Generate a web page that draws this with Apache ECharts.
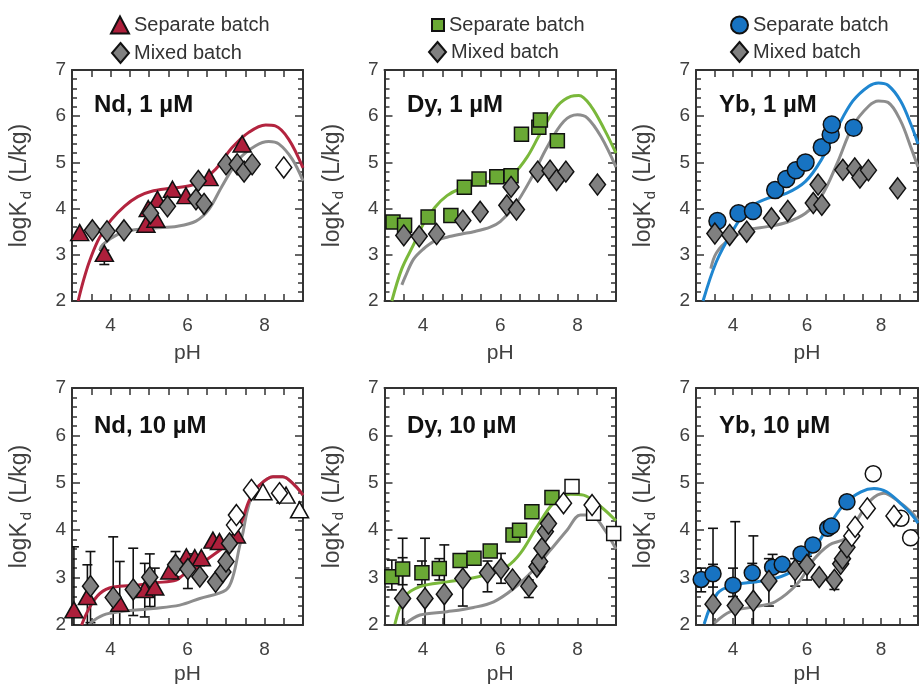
<!DOCTYPE html>
<html><head><meta charset="utf-8">
<script src="https://cdn.jsdelivr.net/npm/echarts@6/dist/echarts.min.js"></script>
<style>html,body{margin:0;padding:0;background:#fff}#c{width:921px;height:688px}</style>
</head><body><div id="c"></div>
<script>
// ---------- data (pH, logKd) ----------
const ndSep1 = [[3.2,3.48],[3.84,3.03],[4.92,3.66],[4.98,4.0],[5.18,3.77],[5.22,4.2],[5.61,4.42],[5.96,4.28],[6.56,4.67],[7.42,5.40]];
const ndSep1Err = [[3.84,2.79,3.1]];
const ndMix1 = [[3.53,3.53],[3.91,3.51],[4.35,3.53],[5.04,3.9],[5.48,4.05],[6.22,4.2],[6.28,4.6],[6.43,4.1],[7.0,4.96],[7.29,4.96],[7.47,4.8],[7.68,4.96]];
const ndMix1Open = [[8.5,4.89]];
const ndSepCurve1 = [[3.16,2.0],[3.3,2.45],[3.45,2.85],[3.67,3.3],[3.85,3.55],[4.02,3.76],[4.36,4.05],[4.71,4.26],[5.05,4.37],[5.57,4.44],[6.08,4.5],[6.4,4.62],[6.73,4.85],[7.16,5.32],[7.59,5.65],[8.03,5.81],[8.28,5.79],[8.63,5.5],[9.0,4.88]];
const ndMixCurve1 = [[3.72,3.1],[3.8,3.22],[4.19,3.44],[4.62,3.54],[5.14,3.58],[5.74,3.62],[6.22,3.73],[6.56,3.99],[6.9,4.49],[7.34,5.07],[7.77,5.36],[8.11,5.45],[8.37,5.40],[8.72,5.07],[9.0,4.6]];

const dySep1 = [[3.22,3.71],[3.52,3.64],[4.13,3.82],[4.72,3.85],[5.07,4.46],[5.45,4.64],[5.91,4.69],[6.28,4.71],[6.55,5.61],[7.0,5.76],[7.04,5.92],[7.48,5.47]];
const dyMix1 = [[3.50,3.42],[3.90,3.40],[4.35,3.45],[5.03,3.74],[5.48,3.93],[6.17,4.07],[6.28,4.47],[6.42,3.98],[6.97,4.80],[7.29,4.82],[7.46,4.62],[7.70,4.80],[8.52,4.52]];
const dySepCurve1 = [[3.19,2.0],[3.45,2.7],[3.76,3.23],[4.01,3.67],[4.31,4.03],[4.62,4.28],[4.96,4.43],[5.48,4.56],[6.0,4.62],[6.35,4.76],[6.70,5.12],[7.04,5.63],[7.48,6.22],[7.83,6.43],[8.04,6.45],[8.35,6.22],[8.70,5.71],[9.0,5.2]];
const dyMixCurve1 = [[3.45,2.35],[3.53,2.51],[3.75,2.9],[4.0,3.12],[4.3,3.3],[4.62,3.38],[5.0,3.45],[5.31,3.5],[5.74,3.6],[6.0,3.72],[6.35,4.03],[6.78,4.62],[7.22,5.34],[7.65,5.89],[8.0,6.03],[8.26,5.96],[8.61,5.56],[9.0,4.9]];

const ybSep1 = [[3.58,3.73],[4.15,3.90],[4.54,3.95],[5.14,4.40],[5.44,4.64],[5.70,4.83],[5.96,5.0],[6.40,5.33],[6.64,5.60],[6.67,5.82],[7.26,5.75]];
const ybMix1 = [[3.51,3.46],[3.91,3.43],[4.37,3.50],[5.04,3.79],[5.48,3.95],[6.17,4.12],[6.30,4.52],[6.40,4.08],[6.97,4.84],[7.29,4.87],[7.43,4.67],[7.66,4.83],[8.45,4.44]];
const ybSepCurve1 = [[3.19,2.0],[3.55,2.85],[3.98,3.5],[4.41,4.0],[4.93,4.22],[5.44,4.33],[5.96,4.59],[6.39,5.06],[6.82,5.75],[7.24,6.33],[7.67,6.65],[7.93,6.72],[8.19,6.67],[8.53,6.33],[8.81,5.82],[9.0,5.4]];
const ybMixCurve1 = [[3.4,2.7],[3.55,3.04],[3.9,3.33],[4.41,3.54],[4.93,3.61],[5.44,3.70],[5.96,3.90],[6.39,4.27],[6.82,4.99],[7.24,5.79],[7.67,6.22],[7.93,6.33],[8.19,6.30],[8.53,5.90],[8.81,5.32],[9.0,4.9]];

const ndSep10 = [[3.05,2.32],[3.40,2.60],[4.24,2.46],[4.89,2.75],[5.15,2.80],[5.54,3.14],[5.97,3.44],[6.19,3.42],[6.36,3.42],[6.66,3.79],[6.83,3.76],[7.27,3.9]];
const ndSep10Open = [[7.96,4.81],[8.56,4.74],[8.91,4.43]];
const ndSep10Err = [[3.05,1.5,3.65],[3.40,2.0,3.27],[4.24,2.0,3.34],[4.89,2.17,3.3],[5.15,2.36,3.2]];
const ndMix10 = [[3.48,2.82],[4.07,2.58],[4.59,2.75],[5.02,3.01],[5.69,3.27],[6.01,3.18],[6.32,3.02],[6.73,2.91],[6.92,3.12],[7.0,3.34],[7.09,3.72]];
const ndMix10Open = [[7.22,4.11],[7.27,4.32],[7.66,4.85],[8.39,4.78]];
const ndMix10Err = [[3.48,2.05,3.55],[4.07,1.5,3.86],[4.59,2.2,3.62],[5.02,2.39,3.5],[5.69,3.02,3.55],[6.01,2.77,3.5]];
const ndSepCurve10 = [[3.25,2.0],[3.47,2.39],[3.73,2.67],[4.07,2.80],[4.68,2.84],[5.19,2.89],[5.71,2.95],[5.88,3.05],[6.23,3.2],[6.49,3.37],[7.0,3.69],[7.35,4.07],[7.61,4.64],[7.87,4.95],[8.22,5.13],[8.47,5.13],[8.78,4.95],[9.0,4.74]];
const ndMixCurve10 = [[3.47,2.04],[3.81,2.21],[4.24,2.28],[5.11,2.35],[5.80,2.42],[6.32,2.56],[7.0,2.74],[7.18,3.02],[7.35,3.65],[7.44,3.95],[7.55,4.4],[7.7,4.78],[7.87,4.95],[8.22,5.13],[8.47,5.13],[8.78,4.95],[9.0,4.74]];

const dySep10 = [[3.19,3.02],[3.47,3.18],[3.97,3.10],[4.42,3.19],[4.96,3.36],[5.32,3.41],[5.74,3.56],[6.33,3.90],[6.50,4.00],[6.82,4.39],[7.34,4.69]];
const dySep10Open = [[7.86,4.92],[8.42,4.36],[8.94,3.93]];
const dySep10Err = [[3.19,2.74,3.37],[3.47,2.85,3.42],[3.97,2.85,3.35],[4.42,2.95,3.4]];
const dyMix10 = [[3.47,2.56],[4.05,2.56],[4.55,2.65],[5.03,2.98],[5.67,3.10],[6.02,3.19],[6.32,2.96],[6.74,2.82],[6.95,3.23],[7.02,3.34],[7.08,3.62],[7.17,3.97],[7.25,4.14]];
const dyMix10Open = [[7.64,4.57],[8.38,4.53]];
const dyMix10Err = [[3.47,1.5,3.83],[4.05,1.5,3.83],[4.55,1.5,3.69],[5.03,2.40,3.3],[5.67,2.70,3.35],[6.02,2.88,3.51],[6.74,2.58,2.95]];
const dySepCurve10 = [[3.27,2.02],[3.53,2.60],[3.92,2.81],[4.62,2.91],[5.22,2.98],[5.74,3.09],[6.17,3.23],[6.52,3.51],[6.95,4.07],[7.38,4.57],[7.82,4.76],[8.16,4.74],[8.60,4.50],[9.0,4.2]];
const dyMixCurve10 = [[3.53,2.02],[3.92,2.21],[4.62,2.28],[5.31,2.37],[5.83,2.49],[6.35,2.77],[6.86,3.16],[7.3,3.58],[7.73,4.00],[8.08,4.32],[8.34,4.32],[8.68,4.04],[9.0,3.6]];

const ybSep10 = [[3.14,2.96],[3.46,3.08],[4.0,2.84],[4.52,3.10],[5.07,3.22],[5.33,3.28],[5.84,3.50],[6.16,3.69],[6.56,4.04],[6.66,4.09],[7.08,4.60]];
const ybSep10Open = [[7.79,5.19],[8.54,4.25],[8.8,3.84]];
const ybSep10Err = [[3.14,2.70,3.20],[3.46,2.8,3.28],[4.0,2.6,3.2],[4.52,2.9,3.3],[5.07,3.0,3.49]];
const ybMix10 = [[3.46,2.44],[4.06,2.41],[4.55,2.51],[4.97,2.93],[5.68,3.16],[6.0,3.27],[6.33,3.01],[6.74,2.95],[6.91,3.29],[6.96,3.40],[7.08,3.64]];
const ybMix10Open = [[7.21,3.88],[7.30,4.07],[7.63,4.46],[8.35,4.30]];
const ybMix10Err = [[3.46,1.5,4.04],[4.06,1.5,4.18],[4.55,1.5,3.88],[4.97,2.40,3.4],[5.68,2.82,3.4],[6.0,2.95,3.45],[6.74,2.75,3.05]];
const ybSepCurve10 = [[3.22,2.02],[3.58,2.67],[4.01,2.84],[4.62,2.91],[5.14,2.98],[5.65,3.16],[6.17,3.58],[6.60,4.11],[7.03,4.57],[7.46,4.81],[7.81,4.88],[8.15,4.81],[8.58,4.53],[8.84,4.32],[9.0,4.15]];
const ybMixCurve10 = [[3.50,2.04],[3.93,2.28],[4.62,2.39],[5.14,2.49],[5.75,2.88],[6.17,3.37],[6.60,3.69],[7.03,3.83],[7.38,4.25],[7.73,4.64],[8.08,4.78],[8.42,4.64],[8.85,4.36],[9.0,4.2]];

const panelTitles = ['Nd, 1 µM','Dy, 1 µM','Yb, 1 µM','Nd, 10 µM','Dy, 10 µM','Yb, 10 µM'];
const legendLabels = {sepNd:'Separate batch', mixNd:'Mixed batch', sepDy:'Separate batch', mixDy:'Mixed batch', sepYb:'Separate batch', mixYb:'Mixed batch'};
const xTickLabels = [4,6,8];
const yTickLabels = [2,3,4,5,6,7];

// ---------- styling / layout ----------
const FONT = '"Liberation Sans", Arial, Helvetica, sans-serif';
const AX = '#333333';
const colLeft = [72, 384.5, 696], colWidth = [231, 231.5, 232];
const rowTop = [70, 388], rowHeight = [231, 237];
const el = {
  Nd:{sym:'triangle', size:[18,16], fill:'#ad1f3b', line:'#b3243f'},
  Dy:{sym:'rect', size:14, fill:'#6aa935', line:'#7ab83b'},
  Yb:{sym:'circle', size:17, fill:'#1773c2', line:'#1f86d0'}
};
const DIA = [16,21];
const panels = [
  {e:'Nd', r:0, c:0, sep:ndSep1, sepOpen:[], sepErr:ndSep1Err, mix:ndMix1, mixOpen:ndMix1Open, mixErr:[], sc:ndSepCurve1, mc:ndMixCurve1, leg:true},
  {e:'Dy', r:0, c:1, sep:dySep1, sepOpen:[], sepErr:[], mix:dyMix1, mixOpen:[], mixErr:[], sc:dySepCurve1, mc:dyMixCurve1, leg:true},
  {e:'Yb', r:0, c:2, sep:ybSep1, sepOpen:[], sepErr:[], mix:ybMix1, mixOpen:[], mixErr:[], sc:ybSepCurve1, mc:ybMixCurve1, leg:true},
  {e:'Nd', r:1, c:0, sep:ndSep10, sepOpen:ndSep10Open, sepErr:ndSep10Err, mix:ndMix10, mixOpen:ndMix10Open, mixErr:ndMix10Err, sc:ndSepCurve10, mc:ndMixCurve10},
  {e:'Dy', r:1, c:1, sep:dySep10, sepOpen:dySep10Open, sepErr:dySep10Err, mix:dyMix10, mixOpen:dyMix10Open, mixErr:dyMix10Err, sc:dySepCurve10, mc:dyMixCurve10},
  {e:'Yb', r:1, c:2, sep:ybSep10, sepOpen:ybSep10Open, sepErr:ybSep10Err, mix:ybMix10, mixOpen:ybMix10Open, mixErr:ybMix10Err, sc:ybSepCurve10, mc:ybMixCurve10}
];

function errRender(params, api) {
  const x = api.value(0), lo = api.value(1), hi = api.value(2);
  const cs = params.coordSys;
  const t = api.coord([x, hi]), b = api.coord([x, lo]);
  const yMax = cs.y + cs.height;
  const yb = Math.min(b[1], yMax);
  const st = {stroke:'#111', lineWidth:1.6};
  const ch = [
    {type:'line', shape:{x1:t[0], y1:t[1], x2:t[0], y2:yb}, style:st},
    {type:'line', shape:{x1:t[0]-5, y1:t[1], x2:t[0]+5, y2:t[1]}, style:st}
  ];
  if (b[1] < yMax - 1) ch.push({type:'line', shape:{x1:b[0]-5, y1:b[1], x2:b[0]+5, y2:b[1]}, style:st});
  return {type:'group', children:ch};
}

const grid = [], xAxis = [], yAxis = [], series = [], title = [], legend = [];
panels.forEach((p, i) => {
  grid.push({left:colLeft[p.c], top:rowTop[p.r], width:colWidth[p.c], height:rowHeight[p.r], containLabel:false});
  const baseX = {gridIndex:i, type:'value', min:3, max:9, interval:1,
    axisLine:{show:true, onZero:false, lineStyle:{color:AX, width:2}},
    axisTick:{show:true, inside:true, length:7, lineStyle:{color:AX, width:1.5}},
    minorTick:{show:true, splitNumber:2, length:7, lineStyle:{color:AX, width:1.5}},
    splitLine:{show:false}};
  xAxis.push(Object.assign({}, baseX, {position:'bottom',
    axisLabel:{show:true, margin:15, fontSize:19, color:'#404040', fontFamily:FONT,
      formatter: v => xTickLabels.indexOf(v) >= 0 ? String(v) : ''},
    name:'pH', nameLocation:'middle', nameGap: p.r === 0 ? 42 : 39,
    nameTextStyle:{fontSize:21, color:'#404040', fontFamily:FONT}}));
  xAxis.push(Object.assign({}, baseX, {position:'top', axisLabel:{show:false}}));
  const baseY = {gridIndex:i, type:'value', min:2, max:7, interval:1,
    axisLine:{show:true, onZero:false, lineStyle:{color:AX, width:2}},
    axisTick:{show:true, inside:true, length:8, lineStyle:{color:AX, width:1.5}},
    minorTick:{show:true, splitNumber:5, length:5, lineStyle:{color:AX, width:1.5}},
    splitLine:{show:false}};
  yAxis.push(Object.assign({}, baseY, {position:'left',
    axisLabel:{show:true, margin:6, fontSize:19, color:'#404040', fontFamily:FONT,
      formatter: v => yTickLabels.indexOf(v) >= 0 ? String(v) : ''},
    name:'{a|logK}{b|d}{a| (L/kg)}', nameLocation:'middle', nameGap:38,
    nameTextStyle:{rich:{
      a:{fontSize:23, color:'#404040', fontFamily:FONT},
      b:{fontSize:15, color:'#404040', fontFamily:FONT, padding:[13,2,0,2]}
    }}}));
  yAxis.push(Object.assign({}, baseY, {position:'right', axisLabel:{show:false}}));

  const xi = 2*i, yi = 2*i;
  const E = el[p.e];
  const sepName = p.leg ? 'sep'+p.e : 'sep'+p.e+'_10';
  const mixName = p.leg ? 'mix'+p.e : 'mix'+p.e+'_10';
  const allErr = p.sepErr.concat(p.mixErr);
  if (allErr.length) series.push({type:'custom', name:'err'+i, xAxisIndex:xi, yAxisIndex:yi, data:allErr,
    renderItem:errRender, encode:{x:0, y:[1,2]}, z:1, silent:true, clip:true});
  series.push({type:'line', name:'mc'+i, xAxisIndex:xi, yAxisIndex:yi, data:p.mc, showSymbol:false, smooth:0.35,
    lineStyle:{color:'#8d8d8d', width:3}, z:2, silent:true, clip:true});
  series.push({type:'line', name:'sc'+i, xAxisIndex:xi, yAxisIndex:yi, data:p.sc, showSymbol:false, smooth:0.35,
    lineStyle:{color:E.line, width:3}, z:2, silent:true, clip:true});
  const sepSize = (p.e === 'Yb' && p.r === 1) ? 16 : E.size;
  series.push({type:'scatter', name:sepName, xAxisIndex:xi, yAxisIndex:yi, data:p.sep, symbol:E.sym, symbolSize:sepSize,
    itemStyle:{color:E.fill, borderColor:'#111', borderWidth:1.5, opacity:1}, z:3, clip:false});
  if (p.sepOpen.length) series.push({type:'scatter', name:'sepOpen'+i, xAxisIndex:xi, yAxisIndex:yi, data:p.sepOpen, symbol:E.sym, symbolSize:sepSize,
    itemStyle:{color:'#ffffff', borderColor:'#111', borderWidth:1.5, opacity:1}, z:3});
  series.push({type:'scatter', name:mixName, xAxisIndex:xi, yAxisIndex:yi, data:p.mix, symbol:'diamond', symbolSize:DIA,
    itemStyle:{color:'#808080', borderColor:'#111', borderWidth:1.5, opacity:1}, z:4});
  if (p.mixOpen.length) series.push({type:'scatter', name:'mixOpen'+i, xAxisIndex:xi, yAxisIndex:yi, data:p.mixOpen, symbol:'diamond', symbolSize:DIA,
    itemStyle:{color:'#ffffff', borderColor:'#111', borderWidth:1.5, opacity:1}, z:4});

  title.push({text:panelTitles[i], left: [94,407,719][p.c], top: p.r === 0 ? 93 : 414, padding:0,
    textStyle:{fontSize:24, fontWeight:'bold', color:'#111', fontFamily:FONT}});
});

const legBase = {orient:'vertical', selectedMode:false, itemGap:0, itemTextGap:5, padding:0,
  textStyle:{fontSize:20, color:'#333', fontFamily:FONT, lineHeight:20},
  formatter: n => legendLabels[n] || n};
legend.push(Object.assign({}, legBase, {data:['sepNd'], left:110, top:15, itemWidth:18, itemHeight:17}));
legend.push(Object.assign({}, legBase, {data:['mixNd'], left:111, top:42, itemWidth:17, itemHeight:20}));
legend.push(Object.assign({}, legBase, {data:['sepDy'], left:431, top:15, itemWidth:12, itemHeight:12, itemTextGap:6}));
legend.push(Object.assign({}, legBase, {data:['mixDy'], left:428, top:41, itemWidth:17, itemHeight:20}));
legend.push(Object.assign({}, legBase, {data:['sepYb'], left:730, top:15, itemWidth:17, itemHeight:17}));
legend.push(Object.assign({}, legBase, {data:['mixYb'], left:730, top:41, itemWidth:17, itemHeight:20}));

const chart = echarts.init(document.getElementById('c'), null, {renderer:'canvas'});
chart.setOption({animation:false, backgroundColor:'#ffffff', grid, xAxis, yAxis, series, title, legend});
</script></body></html>
